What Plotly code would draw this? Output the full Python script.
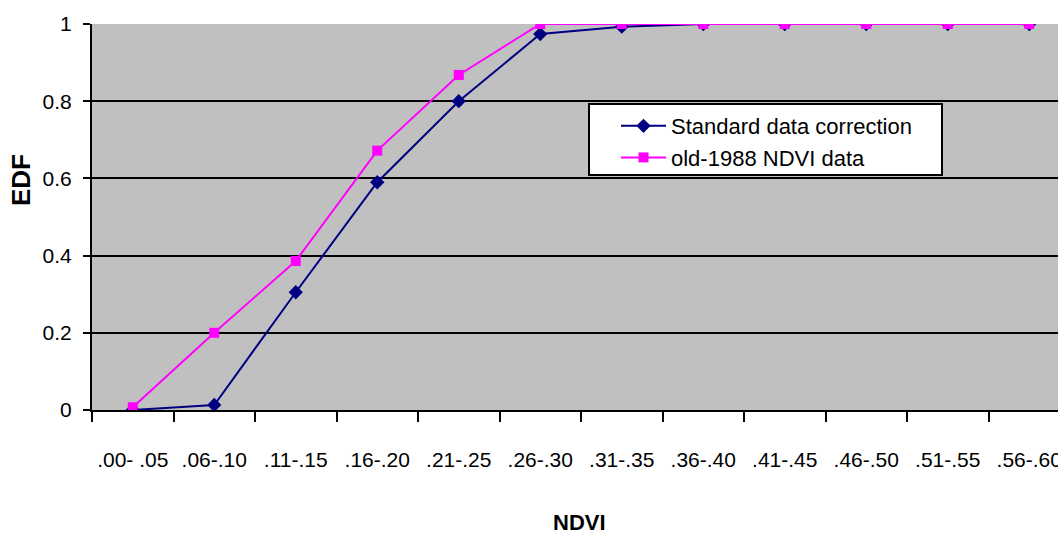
import plotly.graph_objects as go

categories = [".00- .05", ".06-.10", ".11-.15", ".16-.20", ".21-.25", ".26-.30",
              ".31-.35", ".36-.40", ".41-.45", ".46-.50", ".51-.55", ".56-.60"]
standard = [0.0, 0.013, 0.305, 0.59, 0.80, 0.974, 0.993, 1.0, 1.0, 1.0, 1.0, 1.0]
old_1988 = [0.007, 0.20, 0.386, 0.672, 0.868, 1.0, 1.0, 1.0, 1.0, 1.0, 1.0, 1.0]

FONT = "Liberation Sans, Arial, sans-serif"
W, H = 1058, 537
L, T, B = 92, 24, 127
step = 81.5
plot_w = W - L
plot_h = H - T - B
ncat_visible = plot_w / step


def px_x(x):
    return (x - L) / plot_w


def px_y(y):
    return (H - B - y) / plot_h


fig = go.Figure()
fig.add_trace(go.Scatter(
    x=categories, y=standard, name="Standard data correction", mode="lines+markers",
    legendgroup="a",
    line=dict(color="#000080", width=2),
    marker=dict(symbol="diamond", size=11, color="#000080"),
))
fig.add_trace(go.Scatter(
    x=categories, y=old_1988, name="old-1988 NDVI data", mode="lines+markers",
    legendgroup="b",
    line=dict(color="#FF00FF", width=2),
    marker=dict(symbol="square", size=10, color="#FF00FF"),
))

fig.update_layout(
    width=W, height=H,
    margin=dict(l=L, r=0, t=T, b=B, pad=0),
    paper_bgcolor="white", plot_bgcolor="#C0C0C0",
    font=dict(family=FONT, size=21, color="black"),
    showlegend=True,
    legend=dict(
        x=px_x(616), y=px_y(105), xanchor="left", yanchor="top",
        bgcolor="rgba(0,0,0,0)", borderwidth=0,
        font=dict(family=FONT, size=22, color="black"),
        itemwidth=45, tracegroupgap=0,
    ),
    shapes=[
        dict(type="rect", xref="paper", yref="paper", layer="above",
             x0=px_x(589), x1=px_x(942), y0=px_y(104), y1=px_y(175),
             fillcolor="white", line=dict(color="black", width=2)),
    ],
    xaxis=dict(
        type="category", range=[-0.5, -0.5 + ncat_visible],
        tickson="boundaries", ticks="outside", ticklen=10, tickwidth=2, tickcolor="black",
        showline=True, linecolor="black", linewidth=2, showgrid=False,
        tickangle=0,
        tickfont=dict(family=FONT, size=21), ticklabelstandoff=30,
        automargin=False,
    ),
    yaxis=dict(
        range=[0, 1], tickvals=[0, 0.2, 0.4, 0.6, 0.8, 1], ticktext=["0", "0.2", "0.4", "0.6", "0.8", "1"],
        ticks="outside", ticklen=7, tickwidth=2, tickcolor="black",
        showline=True, linecolor="black", linewidth=2,
        showgrid=True, gridcolor="black", gridwidth=2, zeroline=False,
        tickfont=dict(family=FONT, size=21), ticklabelstandoff=7,
        automargin=False,
    ),
    annotations=[
        dict(text="<b>EDF</b>", xref="paper", yref="paper", x=px_x(21), y=px_y(180),
             xanchor="center", yanchor="middle", textangle=-90, showarrow=False,
             font=dict(family=FONT, size=26, color="black")),
        dict(text="<b>NDVI</b>", xref="paper", yref="paper", x=px_x(579), y=px_y(522),
             xanchor="center", yanchor="middle", showarrow=False,
             font=dict(family=FONT, size=22, color="black")),
    ],
)

fig.write_html("out.html")
